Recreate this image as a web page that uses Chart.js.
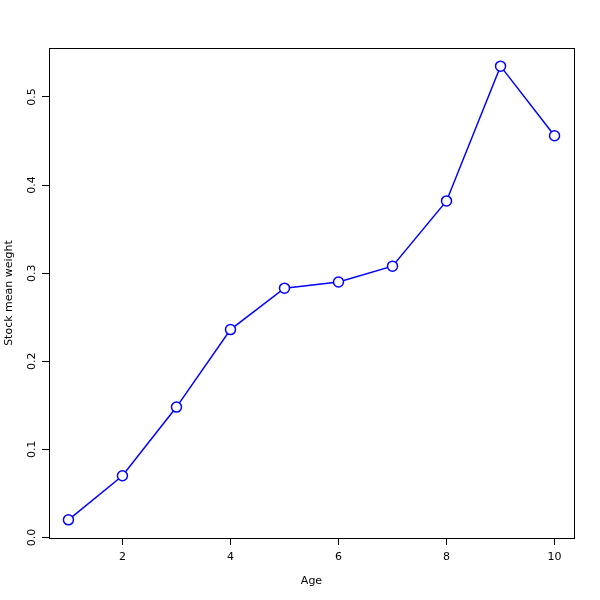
<!DOCTYPE html>
<html>
<head>
<meta charset="utf-8">
<script src="https://cdn.jsdelivr.net/npm/chart.js@4.4.1/dist/chart.umd.min.js"></script>
<style>
  html, body { margin: 0; padding: 0; background: #fff; }
</style>
</head>
<body>
<canvas id="myChart" width="600" height="600"></canvas>
<script>
const ages = [1, 2, 3, 4, 5, 6, 7, 8, 9, 10];
const meanWeight = [0.020, 0.070, 0.148, 0.236, 0.283, 0.290, 0.308, 0.382, 0.535, 0.456];
const xTicks = [2, 4, 6, 8, 10];
const yTicks = [0.0, 0.1, 0.2, 0.3, 0.4, 0.5];

const boxPlugin = {
    id: 'box',
    afterDraw(chart) {
        const a = chart.chartArea;
        const c = chart.ctx;
        c.save();
        c.strokeStyle = '#000';
        c.lineWidth = 1;
        c.strokeRect(a.left + 0.5, a.top + 0.5, a.right - a.left, a.bottom - a.top);
        c.restore();
    }
};

const font = { family: 'DejaVu Sans', size: 11 };

const ctx = document.getElementById('myChart').getContext('2d');
const myChart = new Chart(ctx, {
    type: 'line',
    data: {
        datasets: [{
            label: 'Stock mean weight',
            data: ages.map((a, i) => ({ x: a, y: meanWeight[i] })),
            borderColor: '#0000ff',
            borderWidth: 1.5,
            backgroundColor: '#ffffff',
            pointBackgroundColor: '#ffffff',
            pointBorderColor: '#0000ff',
            pointBorderWidth: 1.5,
            pointRadius: 5,
            tension: 0
        }]
    },
    options: {
        responsive: false,
        animation: false,
        layout: { padding: { top: 48, right: 26, left: 0, bottom: 0 } },
        plugins: {
            legend: { display: false },
            tooltip: { enabled: false }
        },
        scales: {
            x: {
                type: 'linear',
                min: 0.64,
                max: 10.36,
                afterFit: s => { s.height = 62; },
                afterBuildTicks: s => { s.ticks = xTicks.map(v => ({ value: v })); },
                grid: { drawOnChartArea: false, tickLength: 7, color: '#000', tickColor: '#000' },
                border: { display: false },
                ticks: { color: '#000', font: font, padding: 6, maxRotation: 0, callback: v => String(v) },
                title: { display: true, text: 'Age', color: '#000', font: font, padding: { top: 0, bottom: 12 } }
            },
            y: {
                type: 'linear',
                min: -0.0006,
                max: 0.5556,
                afterFit: s => { s.width = 49; },
                afterBuildTicks: s => { s.ticks = yTicks.map(v => ({ value: v })); },
                grid: { drawOnChartArea: false, tickLength: 7, color: '#000', tickColor: '#000' },
                border: { display: false },
                ticks: { color: '#000', font: font, padding: 1, crossAlign: 'center', minRotation: 90, maxRotation: 90, callback: v => v.toFixed(1) },
                title: { display: true, text: 'Stock mean weight', color: '#000', font: font, padding: { top: 3, bottom: 0 } }
            }
        }
    },
    plugins: [boxPlugin]
});
</script>
</body>
</html>
